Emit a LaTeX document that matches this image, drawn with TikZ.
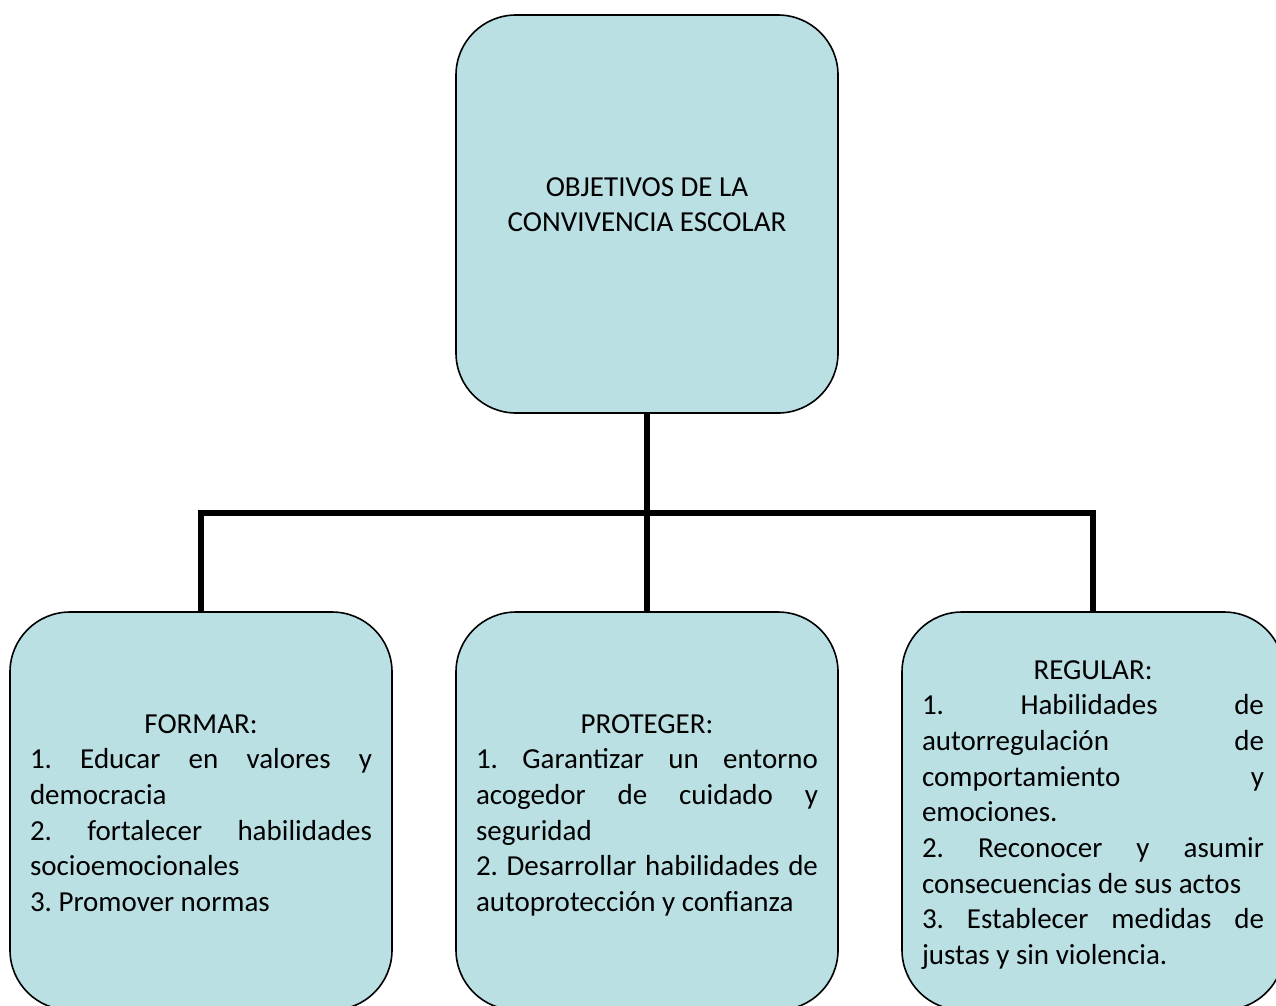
\documentclass[tikz,border=0pt]{standalone}
\usepackage{fontspec}
\setmainfont{Carlito}
\definecolor{boxfill}{RGB}{186,224,228}
\newcommand{\mybody}[1]{\parbox[c][398pt][t]{342pt}{\fontsize{29pt}{35.7pt}\selectfont
  \parindent=0pt\parskip=0pt\hbadness=10000\hfuzz=20pt\frenchspacing #1}}
\newcommand{\myhead}[2]{\hbox to\linewidth{\hss\rule{0pt}{#1}#2\hss}}
% justified line and last (left-aligned) line
\newcommand{\jline}[1]{\hbox to\linewidth{#1}}
\newcommand{\lline}[1]{\hbox to\linewidth{#1\hfil}}
\tikzset{
  box/.style={draw=black, line width=1.6pt, fill=boxfill, rounded corners=60pt,
    minimum width=382pt, minimum height=398pt, inner sep=0pt, outer sep=0pt},
  conn/.style={draw=black, line width=6pt, line join=miter},
}
\begin{document}
\begin{tikzpicture}[x=1pt,y=-1pt]
\useasboundingbox (0,0) rectangle (1276,1005);
\node[box] (T) at (647,214) {\mybody{\myhead{181pt}{OBJETIVOS DE LA}\myhead{0pt}{CONVIVENCIA ESCOLAR}}};
\node[box] (L) at (201,811) {\mybody{\myhead{121pt}{FORMAR:}
\jline{1. Educar en valores y}
\lline{democracia}
\jline{2. fortalecer habilidades}
\lline{socioemocionales}
\lline{3. Promover normas}}};
\node[box] (M) at (647,811) {\mybody{\myhead{121pt}{PROTEGER:}
\jline{1. Garantizar un entorno}
\jline{acogedor de cuidado y}
\lline{seguridad}
\jline{2. Desarrollar habilidades de}
\lline{autoprotección y confianza}}};
\node[box] (R) at (1093,811) {\mybody{\myhead{67pt}{REGULAR:}
\jline{1. Habilidades de}
\jline{autorregulación de}
\jline{comportamiento y}
\lline{emociones.}
\jline{2. Reconocer y asumir}
\lline{consecuencias de sus actos}
\jline{3. Establecer medidas de}
\lline{justas y sin violencia.}}};
\coordinate (bar) at (647,513);
\draw[conn] (T.south) -- (M.north);
\draw[conn] (L.north) -- (L.north |- bar) -| (R.north);
\end{tikzpicture}
\end{document}
